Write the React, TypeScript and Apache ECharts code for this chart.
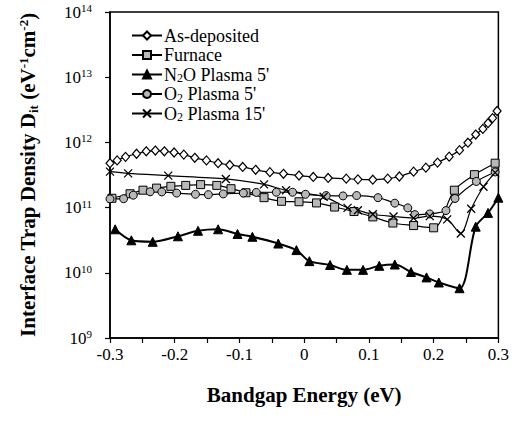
import React, { useEffect, useRef } from "react";
import * as echarts from "echarts";

const FONT = "'Liberation Serif', 'Times New Roman', serif";

const seriesNames = ["As-deposited", "Furnace", "N2O Plasma 5'", "O2 Plasma 5'", "O2 Plasma 15'"];

const asDepX = [-0.300, -0.289, -0.276, -0.259, -0.244, -0.230, -0.216, -0.201, -0.186, -0.169, -0.151, -0.133, -0.115, -0.095, -0.075, -0.053, -0.032, -0.008, 0.014, 0.037, 0.065, 0.083, 0.106, 0.129, 0.147, 0.169, 0.188, 0.206, 0.224, 0.240, 0.253, 0.265, 0.276, 0.284, 0.291, 0.298];
const asDepY = [4.8e11, 5.3e11, 6.0e11, 6.7e11, 7.3e11, 7.5e11, 7.3e11, 7.0e11, 6.5e11, 5.8e11, 5.3e11, 4.8e11, 4.5e11, 4.2e11, 3.8e11, 3.5e11, 3.3e11, 3.1e11, 2.95e11, 2.85e11, 2.78e11, 2.71e11, 2.68e11, 2.78e11, 3.0e11, 3.56e11, 4.1e11, 4.9e11, 6.05e11, 7.6e11, 9.9e11, 1.32e12, 1.61e12, 1.97e12, 2.36e12, 3.03e12];

const furnaceX = [-0.297, -0.269, -0.249, -0.228, -0.206, -0.183, -0.160, -0.135, -0.113, -0.090, -0.062, -0.035, -0.008, 0.019, 0.047, 0.077, 0.106, 0.137, 0.169, 0.200, 0.232, 0.263, 0.295];
const furnaceY = [1.39e11, 1.63e11, 1.85e11, 1.99e11, 2.12e11, 2.19e11, 2.25e11, 2.19e11, 1.95e11, 1.69e11, 1.42e11, 1.25e11, 1.23e11, 1.18e11, 1.02e11, 8.7e10, 7.2e10, 5.8e10, 5.3e10, 4.9e10, 1.85e11, 3.2e11, 4.8e11];

const n2oX = [-0.292, -0.267, -0.234, -0.195, -0.164, -0.133, -0.103, -0.080, -0.040, -0.012, 0.008, 0.040, 0.066, 0.091, 0.116, 0.140, 0.165, 0.189, 0.208, 0.240, 0.265, 0.284, 0.300];
const n2oY = [4.65e10, 3.15e10, 2.99e10, 3.63e10, 4.41e10, 4.65e10, 3.94e10, 3.57e10, 2.81e10, 2.23e10, 1.51e10, 1.32e10, 1.11e10, 1.11e10, 1.28e10, 1.34e10, 1.03e10, 8.5e9, 7.1e9, 5.8e9, 5.1e10, 8.3e10, 1.42e11];

const o2p5X = [-0.300, -0.279, -0.264, -0.238, -0.220, -0.197, -0.168, -0.148, -0.125, -0.094, -0.074, -0.043, -0.018, 0.002, 0.034, 0.060, 0.081, 0.114, 0.140, 0.160, 0.171, 0.194, 0.219, 0.233, 0.266, 0.295];
const o2p5Y = [1.36e11, 1.37e11, 1.55e11, 1.75e11, 1.74e11, 1.67e11, 1.60e11, 1.58e11, 1.62e11, 1.67e11, 1.71e11, 1.72e11, 1.72e11, 1.60e11, 1.53e11, 1.51e11, 1.53e11, 1.42e11, 1.17e11, 9.9e10, 7.8e10, 8.0e10, 9.0e10, 1.38e11, 2.52e11, 3.52e11];

const o2p15X = [-0.300, -0.272, -0.210, -0.121, -0.062, -0.028, 0.030, 0.067, 0.083, 0.106, 0.138, 0.169, 0.194, 0.221, 0.242, 0.258, 0.277, 0.295];
const o2p15Y = [3.56e11, 3.35e11, 3.09e11, 2.75e11, 2.27e11, 1.84e11, 1.47e11, 9.9e10, 9.1e10, 7.9e10, 7.3e10, 6.9e10, 7.4e10, 6.6e10, 4.0e10, 9.6e10, 2.09e11, 3.44e11];

const xTicks = [-0.3, -0.2, -0.1, 0, 0.1, 0.2, 0.3];
const yExponents = [9, 10, 11, 12, 13, 14];

const zip = (xs: number[], ys: number[]) => xs.map((x, i) => [x, ys[i]]);

const legendRich: Record<string, string> = {
  "As-deposited": "As-deposited",
  Furnace: "Furnace",
  "N2O Plasma 5'": "N{sub|2}O Plasma 5'",
  "O2 Plasma 5'": "O{sub|2} Plasma 5'",
  "O2 Plasma 15'": "O{sub|2} Plasma 15'",
};

export default function App() {
  const ref = useRef<HTMLDivElement>(null);
  useEffect(() => {
    document.body.style.margin = "0";
    if (!ref.current) return;
    const chart = echarts.init(ref.current, undefined, { renderer: "svg" });
    const lineBase = (name: string, xs: number[], ys: number[], extra: any) => ({
      name,
      type: "line",
      data: zip(xs, ys),
      smooth: 0.3,
      showSymbol: true,
      symbolSize: 8,
      lineStyle: { color: "#000", width: 1.2 },
      ...extra,
    });
    const option: any = {
      animation: false,
      backgroundColor: "#fff",
      grid: {
        left: 110,
        right: 13,
        top: 12,
        bottom: 96,
        show: true,
        borderColor: "#000",
        borderWidth: 1.5,
        backgroundColor: "transparent",
      },
      legend: {
        orient: "vertical",
        left: 126,
        top: 21,
        itemWidth: 30,
        itemHeight: 10,
        itemGap: 0.5,
        data: seriesNames,
        formatter: (n: string) => legendRich[n] || n,
        textStyle: {
          fontFamily: FONT,
          fontSize: 18,
          color: "#000",
          lineHeight: 19,
          padding: [0, 0, 0, -3],
          rich: {
            sub: { fontFamily: FONT, fontSize: 12, color: "#000", lineHeight: 12, padding: [7, 0, 0, 0] },
          },
        },
      },
      xAxis: {
        type: "value",
        min: -0.3,
        max: 0.3,
        interval: 0.05,
        name: "Bandgap Energy (eV)",
        nameLocation: "middle",
        nameGap: 46,
        nameTextStyle: { fontFamily: FONT, fontSize: 21, fontWeight: "bold", color: "#000" },
        axisLine: { onZero: false, lineStyle: { color: "#000", width: 1.5 } },
        axisTick: { show: true, inside: false, length: 5, lineStyle: { color: "#000", width: 1.2 } },
        splitLine: { show: false },
        axisLabel: {
          fontFamily: FONT,
          fontSize: 17,
          color: "#000",
          margin: 8,
          formatter: (v: number) => {
            const r = Math.round(v * 100);
            if (r % 10 !== 0) return "";
            const t = xTicks.find((k) => Math.round(k * 100) === r);
            return t === undefined ? "" : String(t);
          },
        },
      },
      yAxis: {
        type: "log",
        logBase: 10,
        min: Math.pow(10, yExponents[0]),
        max: Math.pow(10, yExponents[yExponents.length - 1]),
        name:
          "{b|Interface Trap Density D}{bs|it}{b| (eV}{bp|-1}{b|cm}{bp|-2}{b|)}",
        nameLocation: "middle",
        nameGap: 70,
        nameRotate: 90,
        nameTextStyle: {
          color: "#000",
          rich: {
            b: { fontFamily: FONT, fontSize: 21, fontWeight: "bold", color: "#000", lineHeight: 24 },
            bs: { fontFamily: FONT, fontSize: 13, fontWeight: "bold", color: "#000", lineHeight: 14, padding: [10, 0, 0, 0] },
            bp: { fontFamily: FONT, fontSize: 13, fontWeight: "bold", color: "#000", lineHeight: 14, padding: [0, 0, 10, 0] },
          },
        },
        axisLine: { show: true, onZero: false, lineStyle: { color: "#000", width: 1.5 } },
        axisTick: { show: true, inside: false, length: 5, lineStyle: { color: "#000", width: 1.2 } },
        splitLine: { show: false },
        minorTick: { show: false },
        axisLabel: {
          margin: 18,
          formatter: (v: number) => {
            const e = Math.round(Math.log10(v));
            return "{n|10}{s|" + e + "}";
          },
          rich: {
            n: { fontFamily: FONT, fontSize: 17, color: "#000" },
            s: { fontFamily: FONT, fontSize: 11, color: "#000", padding: [0, 0, 8, 0] },
          },
        },
      },
      series: [
        lineBase(seriesNames[0], asDepX, asDepY, {
          symbol: "diamond",
          symbolSize: [8, 9],
          itemStyle: { color: "#fff", borderColor: "#000", borderWidth: 1.2 },
        }),
        lineBase(seriesNames[1], furnaceX, furnaceY, {
          symbol: "rect",
          symbolSize: 8,
          itemStyle: { color: "#b8b8b8", borderColor: "#000", borderWidth: 1 },
        }),
        lineBase(seriesNames[2], n2oX, n2oY, {
          symbol: "triangle",
          symbolSize: 9,
          lineStyle: { color: "#000", width: 2 },
          itemStyle: { color: "#000", borderColor: "#000", borderWidth: 1 },
        }),
        lineBase(seriesNames[3], o2p5X, o2p5Y, {
          symbol: "circle",
          symbolSize: 8,
          itemStyle: { color: "#b8b8b8", borderColor: "#000", borderWidth: 1 },
        }),
        lineBase(seriesNames[4], o2p15X, o2p15Y, {
          symbol: "path://M0,0L10,10M10,0L0,10",
          symbolSize: 8,
          itemStyle: { color: "none", borderColor: "#000", borderWidth: 1.3 },
        }),
      ],
    };
    chart.setOption(option);
    return () => chart.dispose();
  }, []);
  return <div ref={ref} style={{ width: 512, height: 434 }} />;
}
